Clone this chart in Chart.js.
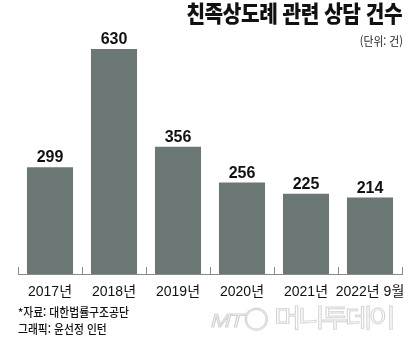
<!DOCTYPE html>
<html lang="ko">
<head>
<meta charset="utf-8">
<script src="https://cdn.jsdelivr.net/npm/chart.js@4/dist/chart.umd.min.js"></script>
<style>
  html,body{margin:0;padding:0;background:#fff;}
  #wrap{position:relative;width:420px;height:345px;overflow:hidden;font-family:"Noto Sans CJK KR","Liberation Sans",sans-serif;}
  #c{position:absolute;left:0;top:0;}
  .title{position:absolute;right:18px;top:1px;font-size:23px;font-weight:900;color:#111;line-height:1;white-space:nowrap;transform:scaleX(.88);transform-origin:right top;letter-spacing:-.5px;}
  .unit{position:absolute;right:17px;top:35px;font-size:12px;color:#222;line-height:1;white-space:nowrap;transform:scaleX(.9);transform-origin:right top;}
  .src{position:absolute;left:18px;font-size:12px;font-weight:500;color:#111;line-height:1;white-space:nowrap;transform:scaleX(.9);transform-origin:left top;}
  .mark{position:absolute;white-space:nowrap;color:#fff;-webkit-text-stroke:1px #d2d2d2;line-height:1;}
  .mt{left:211px;top:311px;font-family:"Liberation Sans";font-size:19px;font-style:italic;transform:scaleX(1.25);transform-origin:left top;letter-spacing:-1px;}
  .logo{left:244px;top:307px;font-family:"DejaVu Sans";font-size:22px;font-style:italic;}
  .name{left:274px;top:303px;font-family:"Noto Sans CJK KR";font-size:30px;font-weight:400;letter-spacing:-4px;transform:scaleY(.85);transform-origin:left top;}
</style>
</head>
<body>
<div id="wrap">
  <canvas id="c" width="420" height="345"></canvas>
  <div class="title">친족상도례 관련 상담 건수</div>
  <div class="unit">(단위: 건)</div>
  <div class="src" style="top:306px">*자료: 대한법률구조공단</div>
  <div class="src" style="top:323px">그래픽: 윤선정 인턴</div>
  <div class="mark mt">MT</div>
  <div class="mark logo">◯</div>
  <div class="mark name">머니투데이</div>
</div>
<script>
// 연도별 상담 건수
const years=["2017년","2018년","2019년","2020년","2021년","2022년 9월"];
const counts=[299,630,356,256,225,214];

const barColor="#6b7774";

// 막대 위 숫자
const valueLabels={
  id:"valueLabels",
  afterDatasetsDraw(chart){
    const ctx=chart.ctx;
    const meta=chart.getDatasetMeta(0);
    ctx.save();
    ctx.font="bold 16px 'Liberation Sans', Arial, sans-serif";
    ctx.fillStyle="#111";
    ctx.textAlign="center";
    ctx.textBaseline="alphabetic";
    meta.data.forEach((bar,i)=>{
      ctx.fillText(String(counts[i]),bar.x,bar.y-5);
    });
    ctx.restore();
  }
};

// 축 위로 올라간 짧은 눈금
const upTicks={
  id:"upTicks",
  afterDraw(chart){
    const {ctx,chartArea}=chart;
    const x=chart.scales.x;
    const step=(chartArea.right-chartArea.left)/years.length;
    ctx.save();
    ctx.strokeStyle="#8a8a8a";
    ctx.lineWidth=1;
    ctx.beginPath();
    for(let i=0;i<=years.length;i++){
      const px=Math.round(chartArea.left+i*step)+0.5;
      ctx.moveTo(px,x.top-7);
      ctx.lineTo(px,x.top);
    }
    ctx.stroke();
    ctx.restore();
  }
};

new Chart(document.getElementById("c"),{
  type:"bar",
  data:{
    labels:years,
    datasets:[{data:counts,backgroundColor:barColor,borderWidth:0,categoryPercentage:1,barPercentage:0.72}]
  },
  options:{
    responsive:false,
    animation:false,
    layout:{padding:{left:18,right:18,top:24,bottom:0}},
    plugins:{legend:{display:false},tooltip:{enabled:false}},
    scales:{
      x:{
        grid:{display:false,drawTicks:false},
        border:{display:true,color:"#8a8a8a",width:1},
        ticks:{padding:10,color:"#111",maxRotation:0,autoSkip:false,
          font:{family:"'Liberation Sans', 'Noto Sans CJK KR', sans-serif",size:14}},
        afterFit(s){s.height=71;}
      },
      y:{display:false,min:0,max:700}
    }
  },
  plugins:[valueLabels,upTicks]
});
</script>
</body>
</html>
